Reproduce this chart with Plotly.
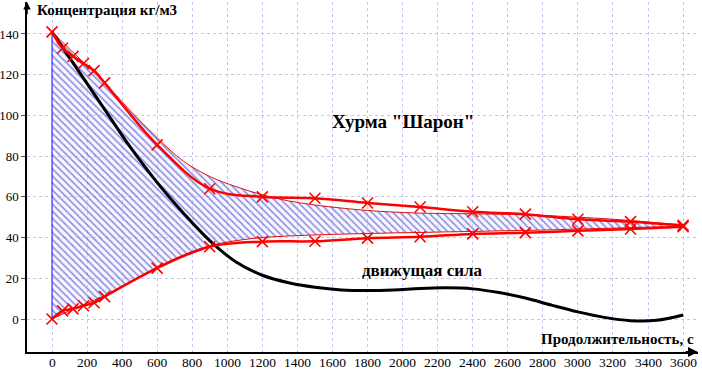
import plotly.graph_objects as go

# Measured points (time, s) and concentrations (kg/m3)
t_meas = [0, 60, 120, 180, 240, 300, 600, 900, 1200, 1500, 1800, 2100, 2400, 2700, 3000, 3300, 3600]
upper_meas = [141, 133, 129, 125.5, 122, 116, 85.5, 64, 60, 59.3, 57, 55, 52.7, 51.5, 49, 47.8, 46]
lower_meas = [0, 4, 5, 6.5, 8, 11, 25, 35.5, 38, 38.2, 39.7, 40.4, 41.8, 42.4, 43.3, 44.2, 45.3]

# Fitted (thin) curves
t_fit = [0, 150, 300, 450, 600, 750, 900, 1050, 1200, 1350, 1500, 1650, 1800, 1950, 2100,
         2250, 2400, 2550, 2700, 2850, 3000, 3150, 3300, 3450, 3600]
upper_fit = [141, 128.5, 116, 102, 89, 77.5, 70, 65, 61, 58, 56, 54.5, 53.3, 52.5, 52,
             51.8, 51.7, 51.5, 51.2, 50.7, 50, 49.3, 48.4, 47.3, 46]
lower_fit = [0, 6, 11.5, 18.5, 25.5, 31.5, 36, 38.5, 40, 40.8, 41.3, 41.7, 42, 42.3, 42.5,
             42.8, 43, 43.3, 43.5, 43.8, 44.2, 44.5, 44.9, 45.2, 45.5]

# Driving force curve
force = [141, 122, 103, 84, 67, 52, 38.5, 28, 21.5, 17.8, 15.6, 14.3, 14, 14.3, 15,
         15.3, 14.8, 13, 10.3, 6.8, 3.5, 0.8, -0.8, -0.6, 2]

x_ticks = list(range(0, 3601, 200))
y_ticks = list(range(0, 141, 20))

FONT = "Liberation Serif, Times New Roman, DejaVu Serif, serif"
RED = "#ff0000"

fig = go.Figure()

# hatched area between fitted curves
fig.add_trace(go.Scatter(x=t_fit, y=lower_fit, mode="lines", line=dict(color="#e01010", width=1, shape="spline"),
                         hoverinfo="skip"))
fig.add_trace(go.Scatter(x=t_fit, y=upper_fit, mode="lines", line=dict(color="#e01010", width=1, shape="spline"),
                         fill="tonexty", fillcolor="rgba(255,255,255,0)",
                         fillpattern=dict(shape="\\", fgcolor="#2626c4", bgcolor="rgba(230,230,255,0.35)",
                                          size=5, solidity=0.33),
                         hoverinfo="skip"))
# blue left edge
fig.add_trace(go.Scatter(x=[t_fit[0], t_fit[0]], y=[lower_fit[0], upper_fit[0]], mode="lines",
                         line=dict(color="#1010ff", width=1)))

# driving force
fig.add_trace(go.Scatter(x=t_fit, y=force, mode="lines", line=dict(color="black", width=3, shape="spline")))

# measured curves
for ys in (upper_meas, lower_meas):
    fig.add_trace(go.Scatter(x=t_meas, y=ys, mode="lines+markers",
                             line=dict(color=RED, width=2.5, shape="spline"),
                             marker=dict(symbol="x-thin", size=11, line=dict(color=RED, width=1.6), color=RED)))

axis_common = dict(showgrid=True, griddash="dot", gridcolor="#c4c4ee", gridwidth=1, zeroline=False,
                   showline=True, linecolor="black",
                   tickfont=dict(family=FONT, size=13, color="black"))

# x tick labels as annotations placed just under the axis line
tick_annots = [dict(text=str(v), x=v, xref="x", y=0, yref="paper", yanchor="top", yshift=-1,
                    showarrow=False, font=dict(family=FONT, size=13.5, color="black")) for v in x_ticks]

fig.update_layout(
    width=702, height=370,
    margin=dict(l=27, r=4, t=2, b=18),
    plot_bgcolor="white", paper_bgcolor="white",
    showlegend=False,
    xaxis=dict(range=[-142.6, 3685], tickvals=x_ticks, showticklabels=False, ticks="", linewidth=2,
               automargin=False, **axis_common),
    yaxis=dict(range=[-16.2, 155.7], tickvals=y_ticks, ticks="outside", ticklen=4, tickcolor="#555",
               linewidth=1.5, automargin=False, **axis_common),
    annotations=tick_annots + [
        dict(text="<b>Концентрация кг/м3</b>", xref="paper", yref="paper", x=0.012, y=0.977,
             xanchor="left", yanchor="middle", showarrow=False, font=dict(family=FONT, size=15, color="black")),
        dict(text="<b>Продолжительность, с</b>", xref="paper", yref="paper", x=0.997, y=0.037,
             xanchor="right", yanchor="middle", showarrow=False, font=dict(family=FONT, size=15, color="black")),
        dict(text="<b>Хурма \"Шарон\"</b>", x=2002, y=97, showarrow=False,
             font=dict(family=FONT, size=19, color="black")),
        dict(text="<b>движущая сила</b>", x=2111, y=24, showarrow=False,
             font=dict(family=FONT, size=17, color="black")),
        # axis arrows
        dict(x=0, y=1, xref="paper", yref="paper", ax=0, ay=14, showarrow=True, arrowhead=2,
             arrowsize=1, arrowwidth=1.5, arrowcolor="black", text=""),
        dict(x=1, y=0, xref="paper", yref="paper", ax=-14, ay=0, showarrow=True, arrowhead=2,
             arrowsize=1, arrowwidth=2, arrowcolor="black", text=""),
    ],
)

fig.write_html("out.html", config={"displayModeBar": False},
               post_script="document.body.style.margin='0';")
